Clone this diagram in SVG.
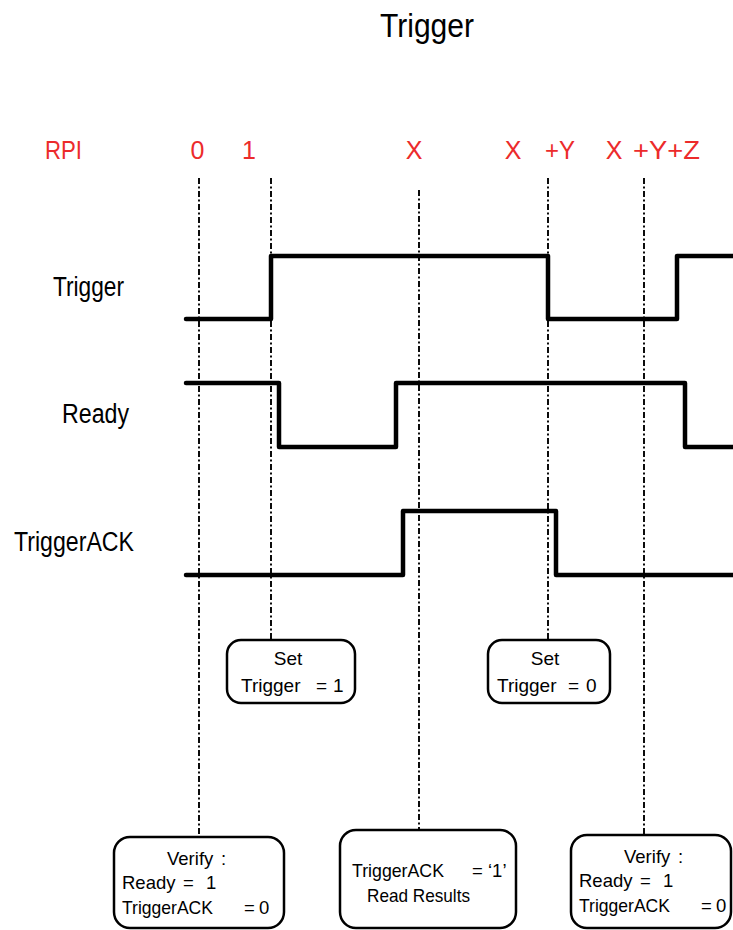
<svg xmlns="http://www.w3.org/2000/svg" width="733" height="930" viewBox="0 0 733 930">
<style>
text{font-family:"Liberation Sans",Arial,sans-serif;fill:#000}
.rpi{fill:#EC2B2B;font-size:25px}
.sig{font-size:27px}
.bx{font-size:18.5px}
.bs{font-size:19px}
.wave{fill:none;stroke:#000;stroke-width:4.5;stroke-linejoin:round;stroke-linecap:round}
.guide{fill:none;stroke:#000;stroke-width:1.9;stroke-dasharray:6 2.5 2 2.5}
.box{fill:#fff;stroke:#000;stroke-width:2.5}
</style>
<rect width="733" height="930" fill="#fff"/>
<text id="title" x="427" y="37" font-size="33" text-anchor="middle" textLength="94" lengthAdjust="spacingAndGlyphs">Trigger</text>
<g id="rpi-labels">
<text class="rpi" x="45" y="159" textLength="37" lengthAdjust="spacingAndGlyphs">RPI</text>
<text class="rpi" x="197.5" y="159" text-anchor="middle">0</text>
<text class="rpi" x="249" y="159" text-anchor="middle">1</text>
<text class="rpi" x="414" y="159" text-anchor="middle">X</text>
<text class="rpi" x="513" y="159" text-anchor="middle">X</text>
<text class="rpi" x="545" y="159" textLength="30" lengthAdjust="spacingAndGlyphs">+Y</text>
<text class="rpi" x="614" y="159" text-anchor="middle">X</text>
<text class="rpi" x="633" y="159" textLength="67" lengthAdjust="spacingAndGlyphs">+Y+Z</text>
</g>
<g id="connectors">
<line class="guide" x1="199" y1="178" x2="199" y2="837"/>
<line class="guide" x1="271" y1="178" x2="271" y2="640"/>
<line class="guide" x1="419" y1="190" x2="419" y2="830"/>
<line class="guide" x1="548" y1="178" x2="548" y2="640"/>
<line class="guide" x1="644" y1="178" x2="644" y2="835"/>
</g>
<g id="sig-trigger">
<text class="sig" x="53" y="296" textLength="71" lengthAdjust="spacingAndGlyphs">Trigger</text>
<path class="wave" d="M186,319 H271 V256 H548 V319 H677 V256 H735"/>
</g>
<g id="sig-ready">
<text class="sig" x="62" y="423" textLength="67" lengthAdjust="spacingAndGlyphs">Ready</text>
<path class="wave" d="M186,383 H279 V447 H396 V383 H685 V447 H735"/>
</g>
<g id="sig-triggerack">
<text class="sig" x="14" y="551" textLength="120" lengthAdjust="spacingAndGlyphs">TriggerACK</text>
<path class="wave" d="M186,575 H403 V511 H556 V575 H735"/>
</g>
<g id="box-set1">
<rect class="box" x="227" y="640" width="128" height="63" rx="14"/>
<text class="bs" x="288" y="665" text-anchor="middle">Set</text>
<text class="bs" x="241" y="692">Trigger</text>
<text class="bs" x="316" y="692">=</text>
<text class="bs" x="333" y="692">1</text>
</g>
<g id="box-set0">
<rect class="box" x="488" y="640" width="122" height="63" rx="14"/>
<text class="bs" x="545" y="665" text-anchor="middle">Set</text>
<text class="bs" x="497" y="692">Trigger</text>
<text class="bs" x="568" y="692">=</text>
<text class="bs" x="586" y="692">0</text>
</g>
<g id="box-verify1">
<rect class="box" x="114" y="837" width="170" height="91" rx="16"/>
<text class="bx" x="167" y="865">Verify</text>
<text class="bx" x="221" y="865">:</text>
<text class="bx" x="122" y="889">Ready</text>
<text class="bx" x="183" y="889">=</text>
<text class="bx" x="206" y="889">1</text>
<text class="bx" x="122" y="914" textLength="91" lengthAdjust="spacingAndGlyphs">TriggerACK</text>
<text class="bx" x="244" y="914">=</text>
<text class="bx" x="259" y="914">0</text>
</g>
<g id="box-read">
<rect class="box" x="340" y="830" width="176" height="98" rx="16"/>
<text class="bx" x="352" y="877" textLength="92" lengthAdjust="spacingAndGlyphs">TriggerACK</text>
<text class="bx" x="472" y="877">=</text>
<text class="bx" x="488" y="877">‘1’</text>
<text class="bx" x="367" y="902" textLength="103" lengthAdjust="spacingAndGlyphs">Read Results</text>
</g>
<g id="box-verify2">
<rect class="box" x="571" y="835" width="160" height="93" rx="16"/>
<text class="bx" x="624" y="863">Verify</text>
<text class="bx" x="678" y="863">:</text>
<text class="bx" x="579" y="887">Ready</text>
<text class="bx" x="640" y="887">=</text>
<text class="bx" x="663" y="887">1</text>
<text class="bx" x="579" y="912" textLength="91" lengthAdjust="spacingAndGlyphs">TriggerACK</text>
<text class="bx" x="701" y="912">=</text>
<text class="bx" x="716" y="912">0</text>
</g>
</svg>
